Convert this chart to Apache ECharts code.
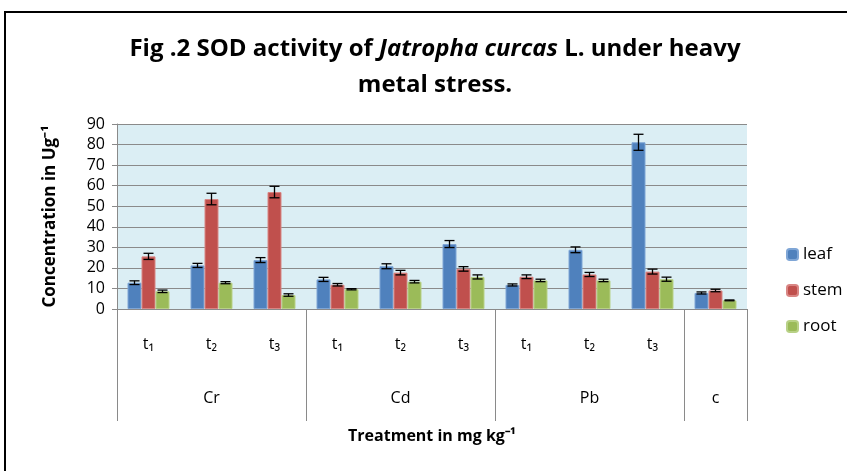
<!DOCTYPE html>
<html>
<head>
<meta charset="utf-8">
<script src="https://cdn.jsdelivr.net/npm/echarts@6/dist/echarts.min.js"></script>
<style>html,body{margin:0;padding:0;background:#fff;}#c{width:847px;height:471px;}</style>
</head>
<body>
<div id="c"></div>
<script>
const categories = ['t₁','t₂','t₃','t₁','t₂','t₃','t₁','t₂','t₃',''];
const groups = ['','Cr','','','Cd','','','Pb','','c'];
const boundaryIndex = [0,1,2,3,4,5,6,7,8,9,10];
const groupBoundaries = [0,3,6,9,10];
const seriesNames = ['leaf','stem','root'];
const leaf = [12.8,21.2,23.8,14.4,20.8,31.6,11.7,28.8,81.1,7.8];
const stem = [25.6,53.5,56.9,11.8,17.7,19.5,15.7,16.8,18.2,9.0];
const root = [8.6,12.8,6.8,9.6,13.3,15.6,13.9,13.9,14.5,4.2];
const leafErr = [0.9,1.0,1.2,1.0,1.2,1.7,0.5,1.4,3.9,0.5];
const stemErr = [1.5,2.8,2.8,0.6,1.1,1.1,0.9,1.0,1.2,0.6];
const rootErr = [0.6,0.5,0.6,0.3,0.6,1.0,0.6,0.6,1.0,0.2];

const colors = ['#4F81BD','#C0504D','#9BBB59'];
const borders = ['#7fa6d6','#d98684','#b8d186'];
const BW = 14;
const FONT = 'Open Sans';

function errSeries(vals, errs, offset) {
  return {
    type: 'custom',
    z: 10,
    silent: true,
    data: vals.map((v, i) => [i, v, errs[i]]),
    encode: {x: 0, y: 1},
    renderItem: function (params, api) {
      const i = api.value(0), v = api.value(1), e = api.value(2);
      const t = api.coord([i, v + e]);
      const b = api.coord([i, v - e]);
      const x = t[0] + offset;
      const cw = 5;
      const st = {stroke: '#000', lineWidth: 1.3};
      return {type: 'group', children: [
        {type: 'line', shape: {x1: x, y1: t[1], x2: x, y2: b[1]}, style: st},
        {type: 'line', shape: {x1: x - cw, y1: t[1], x2: x + cw, y2: t[1]}, style: st},
        {type: 'line', shape: {x1: x - cw, y1: b[1], x2: x + cw, y2: b[1]}, style: st}
      ]};
    }
  };
}

const chart = echarts.init(document.getElementById('c'), null, {renderer: 'canvas'});
const dataSets = [leaf, stem, root];
const errSets = [leafErr, stemErr, rootErr];

const option = {
  animation: false,
  textStyle: {fontFamily: FONT},
  title: {
    left: 430, top: 26, textAlign: 'center',
    text: '{b|Fig .2 SOD activity of }{i|Jatropha curcas}{b| L. under heavy}\n{b|metal stress.}',
    textStyle: {
      rich: {
        b: {fontFamily: FONT, fontWeight: 'bold', fontSize: 24, color: '#000', lineHeight: 36},
        i: {fontFamily: FONT, fontWeight: 'bold', fontStyle: 'italic', fontSize: 24, color: '#000', lineHeight: 36}
      }
    }
  },
  graphic: [{
    type: 'rect', silent: true, z: -1,
    shape: {x: 5, y: 12, width: 900, height: 520},
    style: {fill: 'none', stroke: '#000', lineWidth: 2}
  }],
  legend: {
    orient: 'vertical', left: 781, top: 241,
    itemWidth: 11, itemHeight: 11, itemGap: 19,
    data: seriesNames,
    textStyle: {fontFamily: FONT, fontSize: 17, color: '#000'}
  },
  grid: [
    {left: 117, right: 100, top: 124, bottom: 162, show: true, backgroundColor: '#DBEEF4', borderWidth: 0},
    {left: 117, right: 100, top: 309, height: 112, show: false}
  ],
  xAxis: [{
    type: 'category', data: categories, position: 'bottom', gridIndex: 0,
    axisLine: {lineStyle: {color: '#8a8a8a', width: 1}},
    axisTick: {show: false},
    axisLabel: {interval: 0, margin: 27, fontFamily: FONT, fontSize: 16, color: '#000'},
    name: 'Treatment in mg kg⁻¹', nameLocation: 'middle', nameGap: 119,
    nameTextStyle: {fontFamily: FONT, fontWeight: 'bold', fontSize: 16, color: '#000'}
  }, {
    type: 'category', data: groups, position: 'bottom', gridIndex: 0,
    axisLine: {show: false}, axisTick: {show: false},
    axisLabel: {interval: 0, margin: 81, fontFamily: FONT, fontSize: 16, color: '#000'}
  }, {
    type: 'category', data: boundaryIndex, gridIndex: 1, boundaryGap: false,
    axisLine: {show: false}, axisTick: {show: false}, axisLabel: {show: false},
    splitLine: {show: true, interval: function (idx) { return groupBoundaries.indexOf(idx) >= 0; }, lineStyle: {color: '#8a8a8a', width: 1}}
  }],
  yAxis: [{
    type: 'value', min: 0, max: 90, interval: 10, gridIndex: 0,
    axisLine: {show: true, lineStyle: {color: '#8a8a8a'}},
    axisTick: {show: true, inside: false, length: 5, lineStyle: {color: '#8a8a8a'}},
    axisLabel: {margin: 12, fontFamily: FONT, fontSize: 16, color: '#000'},
    splitLine: {lineStyle: {color: '#8a8a8a', width: 1}},
    name: 'Concentration in Ug⁻¹', nameLocation: 'middle', nameGap: 58, nameRotate: 90,
    nameTextStyle: {fontFamily: FONT, fontWeight: 'bold', fontSize: 17, color: '#000'}
  }, {
    type: 'value', gridIndex: 1, show: false, min: 0, max: 1
  }],
  series: seriesNames.map((n, k) => ({
    name: n, type: 'bar', data: dataSets[k], barWidth: BW, barGap: '0%',
    itemStyle: {color: colors[k], borderColor: borders[k], borderWidth: 1}
  })).concat(errSets.map((e, k) => errSeries(dataSets[k], e, (k - 1) * BW)))
};
chart.setOption(option);
</script>
</body>
</html>
